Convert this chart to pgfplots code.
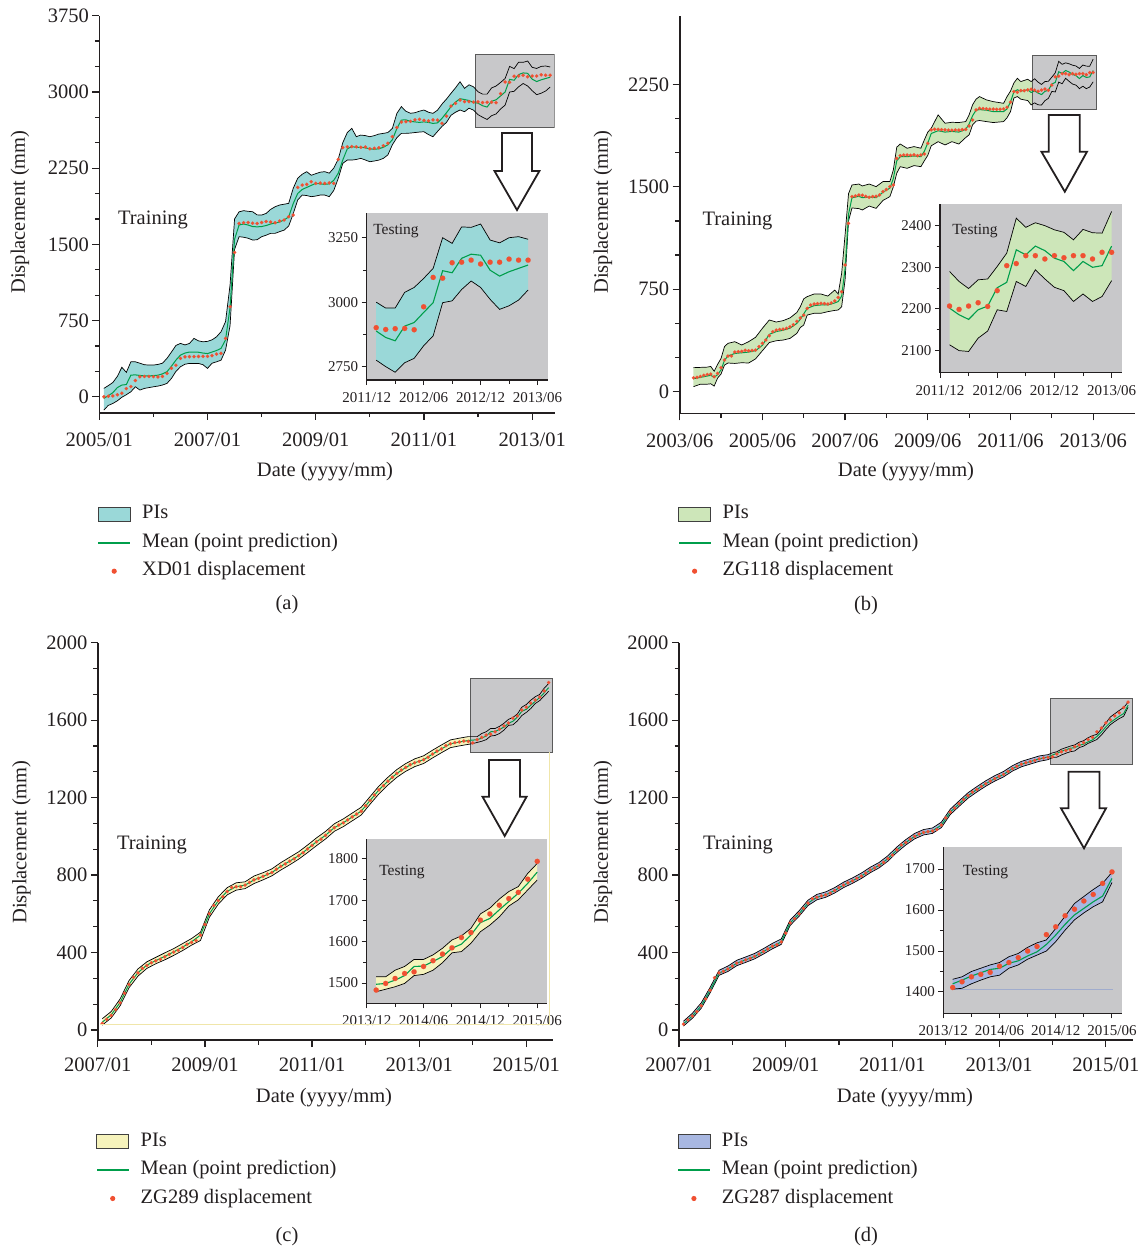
\documentclass[border=0pt]{standalone}
\usepackage{fontspec}
\setmainfont{Liberation Serif}
\usepackage{pgfplots}
\pgfplotsset{compat=1.18}
\usepgfplotslibrary{fillbetween}
\usepackage{pgfplotstable}

\definecolor{txt}{RGB}{35,31,32}
\definecolor{bandA}{RGB}{154,216,216}
\definecolor{bandB}{RGB}{205,230,185}
\definecolor{bandC}{RGB}{246,243,188}
\definecolor{bandD}{RGB}{168,183,225}
\definecolor{boxg}{RGB}{200,200,202}
\definecolor{boxedge}{RGB}{90,90,90}
\definecolor{meang}{RGB}{0,158,75}
\definecolor{obsr}{RGB}{240,80,50}
\definecolor{ylw}{RGB}{240,230,170}

\newcommand\fmain{\fontsize{20.5}{24}\selectfont}
\newcommand\fsmall{\fontsize{15}{18}\selectfont}

\pgfplotstableread[row sep=\\]{n lo mu hi\\
1 -131 -16 82\\2 -85 10 110\\3 -66 40 140\\4 -40 90 200\\5 -5 115 290\\6 20 120 240\\7 49 213 344\\8 98 215 344\\9 66 210 330\\10 82 205 315\\
11 90 205 312\\12 98 208 312\\13 105 212 318\\14 115 225 330\\15 131 246 377\\16 180 300 440\\17 250 361 505\\18 295 410 525\\19 320 430 510\\20 328 440 525\\
21 328 440 574\\22 328 438 550\\23 315 430 541\\24 279 425 545\\25 330 440 560\\26 344 455 590\\27 360 476 640\\28 459 560 740\\29 700 880 1100\\30 1450 1550 1750\\
31 1575 1690 1820\\32 1570 1700 1831\\33 1560 1690 1825\\34 1542 1675 1821\\35 1545 1672 1790\\36 1575 1675 1788\\37 1590 1685 1804\\38 1608 1700 1844\\39 1608 1710 1870\\40 1625 1720 1887\\
41 1640 1740 1895\\42 1680 1770 1903\\43 1800 1900 2050\\44 1936 2000 2150\\45 1985 2040 2190\\46 1980 2060 2215\\47 1969 2080 2180\\48 1975 2100 2195\\49 1985 2095 2210\\50 1985 2090 2215\\
51 1969 2095 2200\\52 2030 2130 2250\\53 2150 2200 2340\\54 2297 2330 2500\\55 2329 2440 2600\\56 2329 2461 2641\\57 2335 2455 2560\\58 2346 2455 2575\\59 2330 2450 2570\\60 2313 2440 2559\\
61 2320 2435 2570\\62 2329 2440 2585\\63 2346 2455 2592\\64 2380 2480 2600\\65 2480 2530 2641\\66 2550 2640 2789\\67 2592 2723 2855\\68 2592 2725 2810\\69 2595 2710 2790\\70 2600 2705 2795\\
71 2605 2700 2810\\72 2608 2705 2822\\73 2580 2700 2800\\74 2559 2690 2789\\75 2610 2695 2820\\76 2660 2740 2880\\77 2700 2795 2930\\78 2770 2855 2986\\79 2800 2900 3040\\80 2822 2933 3100\\
81 2805 2925 3035\\82 2840 2915 3070\\83 2820 2895 3050\\84 2776 2889 3001\\85 2751 2864 2978\\86 2729 2851 2978\\87 2766 2908 3039\\88 2783 2922 3058\\89 2832 2961 3093\\90 2870 2999 3132\\
91 2999 3123 3251\\92 3006 3115 3229\\93 3050 3171 3293\\94 3083 3187 3291\\95 3058 3183 3304\\96 3012 3125 3242\\97 2973 3102 3231\\98 2987 3119 3251\\99 3009 3132 3255\\100 3048 3145 3245\\
}\bandAt

\pgfplotstableread[row sep=\\]{n y\\
1 0\\2 5\\3 8\\4 20\\5 35\\6 80\\7 100\\8 160\\9 197\\10 200\\11 200\\12 198\\13 195\\14 200\\15 230\\16 280\\17 310\\18 377\\19 392\\20 394\\
21 395\\22 396\\23 398\\24 398\\25 405\\26 420\\27 427\\28 574\\29 886\\30 1420\\31 1706\\32 1713\\33 1715\\34 1708\\35 1705\\36 1715\\37 1725\\38 1720\\39 1712\\40 1730\\
41 1739\\42 1772\\43 1788\\44 2060\\45 2083\\46 2090\\47 2116\\48 2100\\49 2102\\50 2100\\51 2105\\52 2100\\53 2336\\54 2451\\55 2460\\56 2462\\57 2460\\58 2455\\59 2458\\60 2440\\
61 2445\\62 2450\\63 2470\\64 2494\\65 2560\\66 2650\\67 2703\\68 2707\\69 2710\\70 2725\\71 2730\\72 2720\\73 2715\\74 2725\\75 2722\\76 2690\\77 2762\\78 2861\\79 2887\\80 2920\\
81 2905\\82 2904\\83 2900\\84 2902\\85 2895\\86 2898\\87 2899\\88 2894\\89 2983\\90 3097\\91 3094\\92 3154\\93 3156\\94 3164\\95 3149\\96 3156\\97 3156\\98 3168\\99 3164\\100 3164\\
}\obsAt

\pgfplotstableread[row sep=\\]{n lo mu hi\\
4 37 95 176\\6 55 105 178\\8 55 115 180\\9 58 120 185\\10 41 105 150\\11 100 125 200\\12 130 160 244\\13 195 230 330\\14 210 262 354\\16 207 280 366\\
18 212 285 342\\20 210 290 366\\22 240 300 398\\24 300 340 464\\26 360 420 525\\28 373 440 510\\30 378 450 520\\32 390 465 540\\34 427 500 580\\35 470 530 622\\
36 488 570 680\\37 561 610 696\\39 574 630 715\\41 574 635 715\\43 586 635 700\\45 595 650 744\\46 598 660 715\\47 622 700 866\\48 820 900 1150\\49 1250 1300 1450\\
50 1345 1420 1513\\52 1340 1430 1520\\53 1330 1420 1506\\55 1359 1425 1520\\57 1342 1420 1501\\59 1400 1460 1538\\61 1428 1490 1538\\62 1500 1560 1623\\63 1600 1690 1790\\64 1647 1720 1813\\
66 1635 1720 1782\\68 1655 1725 1794\\70 1647 1720 1782\\71 1690 1760 1843\\72 1730 1820 1900\\73 1800 1890 1928\\75 1830 1910 2026\\77 1806 1900 1965\\79 1830 1905 1972\\81 1813 1900 1970\\
83 1860 1920 1977\\84 1880 1960 2026\\85 1953 2020 2100\\86 1980 2060 2141\\87 1985 2065 2160\\89 1977 2060 2136\\91 1970 2050 2123\\94 1977 2050 2111\\95 2005 2070 2160\\96 2050 2120 2200\\
97 2150 2195 2260\\98 2160 2210 2294\\99 2141 2200 2270\\101 2131 2210 2287\\102 2099 2190 2270\\
103 2114 2202 2290\\104 2100 2186 2266\\105 2098 2175 2249\\106 2130 2198 2270\\107 2147 2207 2272\\108 2198 2251 2302\\109 2194 2264 2334\\110 2266 2342 2418\\111 2254 2330 2396\\112 2294 2351 2407\\
113 2272 2340 2400\\114 2252 2322 2390\\115 2244 2314 2384\\116 2218 2292 2366\\117 2236 2314 2391\\118 2218 2300 2383\\119 2230 2304 2382\\120 2268 2351 2434\\
}\bandBt

\pgfplotstableread[row sep=\\]{n y\\
4 102\\5 105\\6 112\\7 120\\8 126\\9 129\\10 110\\11 134\\12 176\\13 232\\14 261\\15 262\\16 290\\17 293\\18 295\\19 303\\20 300\\21 302\\22 305\\23 330\\
24 354\\25 378\\26 410\\27 439\\28 451\\29 456\\30 458\\31 464\\32 475\\33 490\\34 515\\35 540\\36 561\\37 610\\38 635\\39 642\\40 645\\41 647\\42 645\\43 642\\
44 650\\45 665\\46 690\\47 732\\48 927\\49 1232\\50 1428\\51 1433\\52 1440\\53 1438\\54 1430\\55 1423\\56 1428\\57 1430\\58 1440\\59 1464\\60 1480\\61 1501\\62 1513\\63 1708\\
64 1728\\65 1732\\66 1733\\67 1730\\68 1733\\69 1728\\70 1733\\71 1740\\72 1818\\73 1916\\74 1921\\75 1920\\76 1918\\77 1916\\78 1915\\79 1914\\80 1916\\81 1915\\82 1918\\83 1920\\
84 1945\\85 1989\\86 2062\\87 2074\\88 2072\\89 2070\\90 2068\\91 2068\\92 2067\\93 2067\\94 2070\\95 2082\\96 2120\\97 2197\\98 2192\\99 2204\\100 2204\\101 2209\\102 2214\\
103 2207\\104 2199\\105 2207\\106 2215\\107 2206\\108 2244\\109 2304\\110 2309\\111 2328\\112 2328\\113 2320\\114 2328\\115 2323\\116 2328\\117 2328\\118 2320\\119 2336\\120 2336\\
}\obsBt

\pgfplotstableread[row sep=\\]{n lo mu hi\\
1 25 40 58\\3 62 78 95\\5 125 142 160\\7 218 236 255\\9 278 296 315\\11 318 335 352\\13 342 358 375\\15 362 380 398\\17 385 403 420\\19 410 428 446\\
21 438 455 472\\23 462 490 505\\25 582 600 620\\27 650 668 688\\29 698 716 735\\31 722 740 760\\33 730 748 765\\35 756 775 795\\37 775 793 812\\39 796 813 832\\
41 826 845 864\\43 853 872 892\\45 882 900 920\\47 916 935 955\\49 952 972 992\\51 986 1005 1025\\53 1026 1045 1065\\55 1050 1070 1090\\57 1080 1100 1120\\59 1110 1130 1150\\
61 1166 1185 1205\\63 1220 1240 1260\\65 1265 1285 1305\\67 1305 1325 1345\\69 1336 1356 1376\\71 1360 1380 1400\\73 1376 1396 1416\\75 1405 1425 1445\\77 1432 1452 1472\\79 1458 1478 1498\\
81 1467 1487 1507\\83 1475 1495 1515\\
84 1479 1497 1515\\85 1485 1499 1515\\86 1491 1507 1531\\87 1499 1518 1540\\88 1518 1540 1557\\89 1521 1541 1557\\90 1531 1552 1568\\91 1549 1564 1584\\92 1573 1584 1604\\93 1576 1594 1614\\
94 1596 1616 1632\\95 1624 1646 1667\\96 1640 1656 1681\\97 1660 1677 1703\\98 1686 1697 1721\\99 1701 1717 1733\\100 1725 1741 1765\\101 1749 1768 1789\\
}\bandCt

\pgfplotstableread[row sep=\\]{n y\\
1 34\\2 55\\3 75\\4 105\\5 140\\6 190\\7 235\\8 272\\9 295\\10 318\\11 333\\12 347\\13 357\\14 365\\15 378\\16 390\\17 402\\18 412\\19 426\\20 442\\
21 452\\22 462\\23 490\\24 545\\25 600\\26 643\\27 668\\28 688\\29 715\\30 735\\31 740\\32 740\\33 748\\34 762\\35 775\\36 783\\37 793\\38 805\\39 813\\40 830\\
41 845\\42 858\\43 872\\44 884\\45 900\\46 915\\47 935\\48 953\\49 972\\50 985\\51 1005\\52 1028\\53 1045\\54 1058\\55 1070\\56 1085\\57 1100\\58 1115\\59 1130\\60 1158\\
61 1185\\62 1213\\63 1240\\64 1262\\65 1285\\66 1305\\67 1325\\68 1342\\69 1356\\70 1370\\71 1380\\72 1387\\73 1396\\74 1408\\75 1425\\76 1440\\77 1452\\78 1468\\79 1478\\80 1484\\
81 1487\\82 1492\\83 1490\\84 1483\\85 1499\\86 1511\\87 1523\\88 1527\\89 1540\\90 1554\\91 1570\\92 1585\\93 1610\\94 1622\\95 1652\\96 1667\\97 1688\\98 1704\\99 1719\\100 1751\\101 1794\\
}\obsCt

\pgfplotstableread[row sep=\\]{n lo mu hi\\
1 20 32 45\\3 60 72 86\\5 112 125 140\\7 192 205 220\\9 282 293 308\\11 302 315 330\\13 332 345 360\\15 349 362 377\\17 367 380 395\\19 392 405 420\\
21 419 432 447\\23 442 455 470\\25 540 553 568\\27 587 600 615\\29 642 655 670\\31 672 685 700\\33 685 698 713\\35 707 720 735\\37 735 748 763\\39 757 770 785\\
41 782 795 810\\43 812 825 840\\45 837 850 865\\47 872 885 900\\49 917 930 945\\51 955 968 983\\53 987 1000 1015\\55 1007 1020 1035\\57 1015 1028 1043\\59 1045 1058 1073\\
61 1112 1125 1140\\63 1155 1168 1183\\65 1197 1210 1225\\67 1229 1242 1257\\69 1259 1272 1287\\71 1285 1298 1313\\73 1307 1320 1335\\75 1337 1350 1365\\77 1359 1372 1387\\79 1373 1386 1401\\
81 1387 1400 1415\\83 1396 1410 1422\\
84 1407 1420 1431\\85 1409 1429 1437\\86 1420 1439 1450\\87 1429 1447 1458\\88 1437 1455 1466\\89 1441 1458 1472\\90 1458 1470 1486\\91 1466 1476 1494\\92 1480 1488 1509\\93 1490 1498 1520\\
94 1500 1516 1527\\95 1523 1539 1555\\96 1551 1565 1585\\97 1576 1588 1616\\98 1593 1604 1633\\99 1608 1620 1650\\100 1620 1634 1665\\101 1667 1677 1692\\
}\bandDt

\pgfplotstableread[row sep=\\]{n y\\
1 30\\2 52\\3 72\\4 95\\5 125\\6 160\\7 205\\8 270\\9 295\\10 303\\11 315\\12 330\\13 345\\14 350\\15 362\\16 370\\17 380\\18 392\\19 405\\20 418\\
21 432\\22 440\\23 455\\24 500\\25 553\\26 575\\27 600\\28 628\\29 655\\30 678\\31 685\\32 692\\33 698\\34 707\\35 720\\36 735\\37 748\\38 760\\39 770\\40 783\\
41 795\\42 810\\43 825\\44 837\\45 850\\46 865\\47 885\\48 903\\49 930\\50 955\\51 968\\52 985\\53 1000\\54 1012\\55 1020\\56 1024\\57 1028\\58 1035\\59 1058\\60 1095\\
61 1125\\62 1146\\63 1168\\64 1190\\65 1210\\66 1228\\67 1242\\68 1258\\69 1272\\70 1285\\71 1298\\72 1310\\73 1320\\74 1335\\75 1350\\76 1362\\77 1372\\78 1380\\79 1386\\80 1392\\
81 1400\\82 1405\\83 1408\\84 1411\\85 1425\\86 1437\\87 1443\\88 1448\\89 1463\\90 1472\\91 1484\\92 1500\\93 1511\\94 1540\\95 1559\\96 1586\\97 1602\\98 1622\\99 1638\\100 1665\\101 1693\\
}\obsDt

\pgfplotsset{
  mainax/.style={scale only axis, anchor=south west,
    axis x line*=bottom, axis y line*=left,
    axis line style={line width=1.6pt, txt, -},
    tick style={line width=1.2pt, txt},
    tick align=outside, major tick length=7pt, minor tick length=4.5pt,
    minor y tick num=2,
    ticklabel style={font=\fmain, text=txt},
    /pgf/number format/assume math mode=true,
    /pgf/number format/1000 sep={},
    legend style={at={(axis description cs:0,0)}, anchor=north west, xshift=-1.5pt,
      draw=none, fill=none, inner sep=0pt, outer sep=0pt, font=\fmain, text=txt, row sep=9.5pt,
      nodes={inner sep=0pt, text height=14pt, text depth=5pt}},
    legend cell align=left},
  insetax/.style={scale only axis, anchor=south west,
    axis background/.style={fill=boxg},
    axis x line*=bottom, axis y line*=left,
    axis line style={line width=1.3pt, txt, -},
    tick style={line width=1pt, txt},
    tick align=outside, major tick length=5pt, minor tick length=3.5pt,
    minor y tick num=1,
    ticklabel style={font=\fsmall, text=txt},
    xticklabel style={yshift=-4pt},
    /pgf/number format/assume math mode=true,
    /pgf/number format/1000 sep={},
    xtick={0,6,12,18}, minor xtick={3,9,15}},
  pilegend/.style={legend image code/.code={\draw[fill=#1, draw=black!75, line width=0.8pt] (0pt,-7pt) rectangle (32pt,7pt); \path[draw=none, fill=none] (0pt,-1pt) rectangle (44pt,1pt);}},
  meanlegend/.style={legend image code/.code={\path[fill=meang, draw=none] (0pt,-0.8pt) rectangle (32pt,0.8pt); \path[draw=none, fill=none] (0pt,-1pt) rectangle (44pt,1pt);}},
  obslegend/.style={legend image code/.code={\path[draw=none, fill=obsr] (16pt,0pt) circle (2.6pt); \path[draw=none, fill=none] (0pt,-1pt) rectangle (44pt,1pt);}},
  edge/.style={black, line width=0.7pt, forget plot},
  dots/.style={color=obsr, only marks, mark=*, mark size=#1, mark options={solid, fill=obsr, draw=obsr, line width=0.1pt}, forget plot},
}

% main-panel series: #1 band table, #2 obs table, #3 color, #4 tag
\newcommand\mainseries[4]{%
  \addplot[draw=none, name path=#4U, forget plot] table[x=n,y=hi]{#1};
  \addplot[draw=none, name path=#4L, forget plot] table[x=n,y=lo]{#1};
  \addplot[fill=#3, draw=none, forget plot] fill between[of=#4U and #4L];
  \addplot[edge] table[x=n,y=hi]{#1};
  \addplot[edge] table[x=n,y=lo]{#1};
  \addplot[meang, line width=1pt, forget plot] table[x=n,y=mu]{#1};
  \addplot[dots=1.7pt] table[x=n,y=y]{#2};
}
% inset series: #1 band, #2 obs, #3 color, #4 tag, #5 offset
\newcommand\insetseries[5]{%
  \addplot[draw=none, name path=#4U, restrict x to domain=0.5:19, forget plot] table[x expr=\thisrow{n}-#5,y=hi]{#1};
  \addplot[draw=none, name path=#4L, restrict x to domain=0.5:19, forget plot] table[x expr=\thisrow{n}-#5,y=lo]{#1};
  \addplot[fill=#3, draw=none, forget plot] fill between[of=#4U and #4L];
  \addplot[edge, restrict x to domain=0.5:19] table[x expr=\thisrow{n}-#5,y=hi]{#1};
  \addplot[edge, restrict x to domain=0.5:19] table[x expr=\thisrow{n}-#5,y=lo]{#1};
  \addplot[meang, line width=1.1pt, restrict x to domain=0.5:19, forget plot] table[x expr=\thisrow{n}-#5,y=mu]{#1};
  \addplot[dots=2.6pt, restrict x to domain=0.5:19] table[x expr=\thisrow{n}-#5,y=y]{#2};
}

\begin{document}
\begin{tikzpicture}
\begin{scope}[x=1pt,y=-1pt]
\path[use as bounding box] (0,0) rectangle (1145,1252);
\end{scope}

% ---------------- (a) ----------------
\begin{axis}[mainax, at={(99.3pt,-412.7pt)}, width=455.4pt, height=397pt,
  xticklabel style={yshift=-10pt}, legend style={yshift=-92pt},
  xmin=0, xmax=101, ymin=-157, ymax=3750, ytick={0,750,1500,2250,3000,3750},
  xtick={0,24,48,72,96}, xticklabels={2005/01,2007/01,2009/01,2011/01,2013/01}, minor xtick={12,36,60,84}]
\addlegendimage{pilegend=bandA}\addlegendentry{PIs}
\addlegendimage{meanlegend}\addlegendentry{Mean (point prediction)}
\addlegendimage{obslegend}\addlegendentry{XD01 displacement}
\draw[fill=boxg, draw=boxedge, line width=0.8pt] (axis cs:83.5,2651) rectangle (axis cs:100.9,3370);
\mainseries{\bandAt}{\obsAt}{bandA}{ma}
\end{axis}
\begin{axis}[insetax, at={(366.7pt,-380pt)}, width=181.3pt, height=167.3pt,
  xmin=0, xmax=19.1, ymin=2699, ymax=3348, ytick={2750,3000,3250},
  xticklabels={2011/12,2012/06,2012/12,2013/06}]
\insetseries{\bandAt}{\obsAt}{bandA}{ia}{83}
\end{axis}

% ---------------- (b) ----------------
\begin{axis}[mainax, at={(679.7pt,-413.3pt)}, width=455.5pt, height=397.6pt,
  xticklabel style={yshift=-10pt}, legend style={yshift=-91.4pt},
  xmin=0, xmax=132.2, ymin=-158, ymax=2752, ytick={0,750,1500,2250},
  xtick={0,24,48,72,96,120}, xticklabels={2003/06,2005/06,2007/06,2009/06,2011/06,2013/06}, minor xtick={12,36,60,84,108}]
\addlegendimage{pilegend=bandB}\addlegendentry{PIs}
\addlegendimage{meanlegend}\addlegendentry{Mean (point prediction)}
\addlegendimage{obslegend}\addlegendentry{ZG118 displacement}
\draw[fill=boxg, draw=boxedge, line width=0.8pt] (axis cs:102.5,2067) rectangle (axis cs:120.8,2458);
\mainseries{\bandBt}{\obsBt}{bandB}{mb}
\end{axis}
\begin{axis}[insetax, at={(940pt,-372.7pt)}, width=181.7pt, height=168.7pt,
  xmin=0, xmax=19.06, ymin=2047, ymax=2452, ytick={2100,2200,2300,2400},
  xticklabels={2011/12,2012/06,2012/12,2013/06}]
\insetseries{\bandBt}{\obsBt}{bandB}{ib}{102}
\end{axis}

% ---------------- (c) ----------------
\begin{axis}[mainax, at={(97.8pt,-1040pt)}, width=455.2pt, height=397.3pt,
  xticklabel style={yshift=-7pt}, legend style={yshift=-92pt},
  xmin=0, xmax=101.98, ymin=-52, ymax=2000, ytick={0,400,800,1200,1600,2000},
  xtick={0,24,48,72,96}, xticklabels={2007/01,2009/01,2011/01,2013/01,2015/01}, minor xtick={12,36,60,84}]
\addlegendimage{pilegend=bandC}\addlegendentry{PIs}
\addlegendimage{meanlegend}\addlegendentry{Mean (point prediction)}
\addlegendimage{obslegend}\addlegendentry{ZG289 displacement}
\draw[fill=boxg, draw=boxedge, line width=0.8pt] (axis cs:83.5,1436) rectangle (axis cs:101.9,1818);
\mainseries{\bandCt}{\obsCt}{bandC}{mc}
\end{axis}
\begin{axis}[insetax, at={(366.7pt,-1003.3pt)}, width=180pt, height=164.3pt,
  xmin=0, xmax=19.0, ymin=1451, ymax=1848, ytick={1500,1600,1700,1800},
  xticklabels={2013/12,2014/06,2014/12,2015/06}]
\insetseries{\bandCt}{\obsCt}{bandC}{ic}{83}
\end{axis}

% ---------------- (d) ----------------
\begin{axis}[mainax, at={(679pt,-1040pt)}, width=454.4pt, height=397.3pt,
  xticklabel style={yshift=-7pt}, legend style={yshift=-92pt},
  xmin=0, xmax=102.2, ymin=-52, ymax=2000, ytick={0,400,800,1200,1600,2000},
  xtick={0,24,48,72,96}, xticklabels={2007/01,2009/01,2011/01,2013/01,2015/01}, minor xtick={12,36,60,84}]
\addlegendimage{pilegend=bandD}\addlegendentry{PIs}
\addlegendimage{meanlegend}\addlegendentry{Mean (point prediction)}
\addlegendimage{obslegend}\addlegendentry{ZG287 displacement}
\draw[fill=boxg, draw=boxedge, line width=0.8pt] (axis cs:83.5,1373) rectangle (axis cs:101.9,1712);
\mainseries{\bandDt}{\obsDt}{bandD}{md}
\end{axis}
\begin{axis}[insetax, at={(943.3pt,-1013.3pt)}, width=178.4pt, height=166pt,
  xmin=0, xmax=19.04, ymin=1348, ymax=1753, ytick={1400,1500,1600,1700},
  xticklabels={2013/12,2014/06,2014/12,2015/06}]
\draw[color=bandD!80!gray, line width=0.5pt] (axis cs:1,1407) -- (axis cs:18.1,1407);
\insetseries{\bandDt}{\obsDt}{bandD}{id}{83}
\end{axis}

% ---------------- decorations ----------------
\begin{scope}[x=1pt,y=-1pt]
\draw[ylw, line width=0.8pt] (100,1024.3) -- (549.3,1024.3) -- (549.3,751.7);
\foreach \L/\R/\T/\S/\HL/\HR/\TX/\TY in {502/532/133/171/494.5/539.4/517/210, 1048.7/1079.7/115/151.7/1041.4/1087/1064.8/191.7, 489/520/760/796.7/482.5/526.6/504.7/836, 1068.4/1099.4/771.7/808.3/1061/1106/1084/848.3}{
  \path[draw=txt, fill=white, line width=1.8pt, line join=miter] (\L,\T) -- (\R,\T) -- (\R,\S) -- (\HR,\S) -- (\TX,\TY) -- (\HL,\S) -- (\L,\S) -- cycle;
}
\begin{scope}[font=\fmain, text=txt]
\node at (153,220) {Training};
\node at (737.5,220.7) {Training};
\node at (152,845) {Training};
\node at (738,845) {Training};
\node at (325,472) {Date (yyyy/mm)};
\node at (906,472) {Date (yyyy/mm)};
\node at (324,1098) {Date (yyyy/mm)};
\node at (905,1098) {Date (yyyy/mm)};
\node[rotate=90] at (20,212) {Displacement (mm)};
\node[rotate=90] at (603,212) {Displacement (mm)};
\node[rotate=90] at (21.5,842) {Displacement (mm)};
\node[rotate=90] at (603,842) {Displacement (mm)};
\node at (287,605) {(a)};
\node at (866,606) {(b)};
\node at (287,1237) {(c)};
\node at (866,1237) {(d)};
\end{scope}
\begin{scope}[font=\fontsize{15.5}{18}\selectfont, text=txt]
\node at (396,230.7) {Testing};
\node at (975,230.7) {Testing};
\node at (402,872) {Testing};
\node at (985.5,872.3) {Testing};
\end{scope}
\end{scope}
\end{tikzpicture}
\end{document}
